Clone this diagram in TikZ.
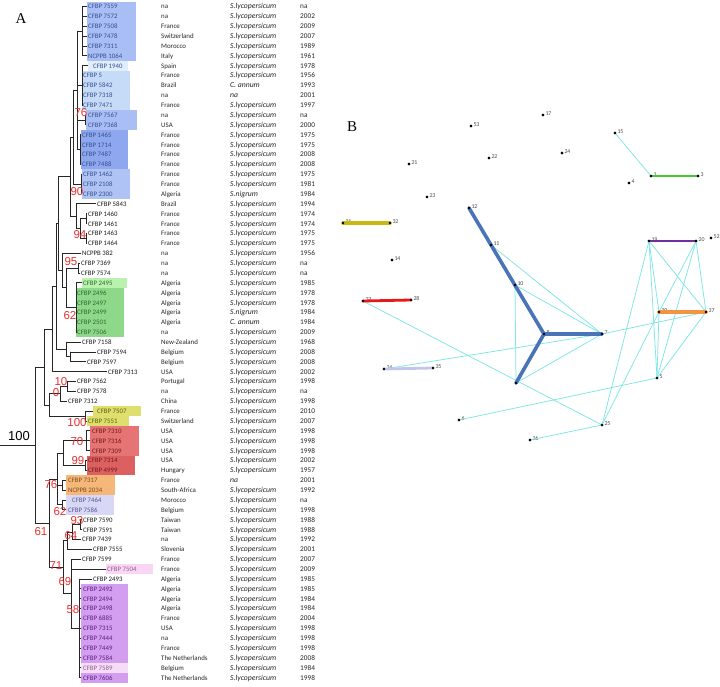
\documentclass[tikz,border=0pt]{standalone}
\usepackage{fontspec}
\setmainfont{Carlito}
\newfontfamily\serifA{Liberation Serif}
\newfontfamily\numf{Liberation Sans}
\definecolor{blueA}{HTML}{A9BEF4}
\definecolor{blueVL}{HTML}{E0EDFB}
\definecolor{blueL}{HTML}{C6DBF8}
\definecolor{blueD}{HTML}{8EA7EE}
\definecolor{blueM}{HTML}{AFC4F5}
\definecolor{greenL}{HTML}{B9F2AD}
\definecolor{greenM}{HTML}{8ED88A}
\definecolor{yel}{HTML}{DEDF6E}
\definecolor{redL}{HTML}{E77474}
\definecolor{redD}{HTML}{DC6060}
\definecolor{orgL}{HTML}{F6B87A}
\definecolor{lavL}{HTML}{D8D8F6}
\definecolor{pinkL}{HTML}{F8D6F4}
\definecolor{purL}{HTML}{D39DF0}
\definecolor{pinkV}{HTML}{F5DDF8}
\definecolor{tb}{HTML}{34508F}
\definecolor{tg}{HTML}{2E6A2E}
\definecolor{ty}{HTML}{5F5F0A}
\definecolor{tr}{HTML}{6E1A1A}
\definecolor{to}{HTML}{7A4A15}
\definecolor{tl}{HTML}{55558F}
\definecolor{tp}{HTML}{8F5A8F}
\definecolor{tu}{HTML}{5A2080}
\definecolor{k}{HTML}{1A1A1A}
\definecolor{bootred}{HTML}{E8312F}
\definecolor{cyanE}{HTML}{7EE6E6}
\definecolor{blueE}{HTML}{4A74B8}
\definecolor{yelE}{HTML}{C9B812}
\definecolor{grnE}{HTML}{44C833}
\definecolor{purE}{HTML}{7030A0}
\definecolor{redE}{HTML}{E81818}
\definecolor{orgE}{HTML}{F39440}
\definecolor{lavE}{HTML}{C4C4F0}
\begin{document}
\begin{tikzpicture}[x=1pt,y=-1pt,
  treeln/.style={line width=0.9pt, draw=black!85, line cap=rect},
  strain/.style={anchor=base west, inner sep=0, font=\fontsize{6.8}{7}\selectfont},
  info/.style={anchor=base west, inner sep=0, font=\fontsize{6.9}{7}\selectfont, text=black!85},
  yearst/.style={info, font=\fontsize{7.3}{7.5}\selectfont},
  spec/.style={info, font=\fontsize{7.7}{8}\selectfont\itshape},
  boot/.style={text=bootred, inner sep=0, font=\numf\fontsize{11.5}{11.5}\selectfont},
  panel/.style={inner sep=0, font=\serifA\fontsize{15}{15}\selectfont},
  dot/.style={circle, fill=black, inner sep=0, minimum size=2.6pt},
  lbl/.style={font=\fontsize{5.9}{6}\selectfont, text=black!70, inner sep=0.8pt, yshift=1.6pt},
  cyE/.style={draw=cyanE, line width=0.75pt},
  thick/.style={line width=3.2pt, line cap=round}
]
\useasboundingbox (0,0) rectangle (720,687);
\fill[white] (0,0) rectangle (720,687);

% ---------- highlight boxes ----------
\fill[blueA] (87,1.57) rectangle (136,60.78);
\fill[blueVL] (88,60.79) rectangle (128,70.65);
\fill[blueL] (82,70.66) rectangle (130,110.13);
\fill[blueA] (86,110.14) rectangle (137,129.87);
\fill[blueD] (81,129.88) rectangle (128,169.35);
\fill[blueM] (82,169.36) rectangle (130,198.96);
\fill[greenL] (82,277.93) rectangle (127,287.79);
\fill[greenM] (76,287.8) rectangle (124,337.14);
\fill[yel] (93,406.24) rectangle (141,416.1);
\fill[yel] (87,416.11) rectangle (129,425.97);
\fill[redL] (90,425.98) rectangle (139,455.58);
\fill[redD] (87,455.59) rectangle (135,475.32);
\fill[orgL] (66,475.33) rectangle (115,495.06);
\fill[lavL] (66,495.07) rectangle (114,514.8);
\fill[pinkL] (106,564.16) rectangle (153,574.02);
\fill[purL] (81,583.9) rectangle (128,662.85);
\fill[pinkV] (81,662.86) rectangle (128,672.72);
\fill[purL] (81,672.73) rectangle (128,682.59);

% ---------- tree ----------
\draw[treeln] (82,6.5)--(82,55.85);
\foreach \yy in {6.5,16.37,26.24,36.11,45.98,55.85} \draw[treeln] (82,\yy)--(87,\yy);
\draw[treeln] (82,65.72)--(82,105.2) (82,65.72)--(88,65.72);
\draw[treeln] (85,115.07)--(85,124.94) (85,115.07)--(86,115.07) (85,124.94)--(86,124.94);
\draw[treeln] (80,134.81)--(80,164.42);
\draw[treeln] (77,31.2)--(77,149.6) (77,31.2)--(82,31.2) (77,85.5)--(82,85.5) (77,120)--(85,120) (77,149.6)--(80,149.6);
\draw[treeln] (81,174.29)--(81,194.03);
\draw[treeln] (73,90.4)--(73,184.2) (73,90.4)--(77,90.4) (73,184.2)--(81,184.2);
\draw[treeln] (86,213.77)--(86,223.64) (86,213.77)--(87,213.77) (86,223.64)--(87,223.64);
\draw[treeln] (86,233.51)--(86,243.38) (86,233.51)--(87,233.51) (86,243.38)--(87,243.38);
\draw[treeln] (80,218.7)--(80,238.4) (80,218.7)--(86,218.7) (80,238.4)--(86,238.4);
\draw[treeln] (76,203.9)--(76,228.6) (76,203.9)--(96,203.9) (76,228.6)--(80,228.6);
\draw[treeln] (70,137.3)--(70,216.2) (70,137.3)--(73,137.3) (70,216.2)--(76,216.2);
\draw[treeln] (78,263.12)--(78,272.99) (78,263.12)--(80,263.12) (78,272.99)--(80,272.99);
\draw[treeln] (76,282.86)--(76,332.21) (76,282.86)--(82,282.86);
\draw[treeln] (66,268)--(66,307.5) (66,268)--(78,268) (66,307.5)--(76,307.5);
\draw[treeln] (62,253.25)--(62,287.8) (62,253.25)--(81,253.25) (62,287.8)--(66,287.8);
\draw[treeln] (58,176.8)--(58,270.5) (58,176.8)--(70,176.8) (58,270.5)--(62,270.5);
\draw[treeln] (70,351.95)--(70,361.82) (70,351.95)--(96,351.95) (70,361.82)--(86,361.82);
\draw[treeln] (66,342.08)--(66,356.9) (66,342.08)--(81,342.08) (66,356.9)--(70,356.9);
\draw[treeln] (56,223.7)--(56,349.5) (56,223.7)--(58,223.7) (56,349.5)--(66,349.5);
\draw[treeln] (52,286.6)--(52,371.69) (52,286.6)--(56,286.6) (52,371.69)--(107,371.69);
\draw[treeln] (67,381.56)--(67,391.43) (67,381.56)--(76,381.56) (67,391.43)--(76,391.43);
\draw[treeln] (60,386.5)--(60,401.3) (60,386.5)--(67,386.5) (60,401.3)--(67,401.3);
\draw[treeln] (85,411.17)--(85,421.04) (85,411.17)--(93,411.17) (85,421.04)--(87,421.04);
\draw[treeln] (49,393.9)--(49,416.1) (49,393.9)--(60,393.9) (49,416.1)--(85,416.1);
\draw[treeln] (44,329.1)--(44,405) (44,329.1)--(52,329.1) (44,405)--(49,405);
\draw[treeln] (86,430.91)--(86,450.65) (86,430.91)--(90,430.91) (86,440.78)--(90,440.78) (86,450.65)--(90,450.65);
\draw[treeln] (85,460.52)--(85,470.39) (85,460.52)--(87,460.52) (85,470.39)--(87,470.39);
\draw[treeln] (63,440.8)--(63,465.5) (63,440.8)--(86,440.8) (63,465.5)--(85,465.5);
\draw[treeln] (62,480.26)--(62,490.13) (62,480.26)--(66,480.26) (62,490.13)--(66,490.13);
\draw[treeln] (62,500)--(62,509.87) (62,500)--(66,500) (62,509.87)--(66,509.87);
\draw[treeln] (57,453.1)--(57,504.9) (57,453.1)--(63,453.1) (57,485.2)--(62,485.2) (57,504.9)--(62,504.9);
\draw[treeln] (80,519.74)--(80,529.61) (80,519.74)--(82,519.74) (80,529.61)--(82,529.61);
\draw[treeln] (72,524.7)--(72,539.48) (72,524.7)--(80,524.7) (72,539.48)--(81,539.48);
\draw[treeln] (67,532.1)--(67,549.35) (67,532.1)--(72,532.1) (67,549.35)--(92,549.35);
\draw[treeln] (79,578.96)--(79,677.66) (79,578.96)--(92,578.96);
\foreach \yy in {588.83,598.7,608.57,618.44,628.31,638.18,648.05,657.92,667.79,677.66} \draw[treeln] (79,\yy)--(81,\yy);
\draw[treeln] (71,559.22)--(71,628.3) (71,559.22)--(81,559.22) (71,569.09)--(106,569.09) (71,628.3)--(79,628.3);
\draw[treeln] (63,540.7)--(63,593.8) (63,540.7)--(67,540.7) (63,593.8)--(71,593.8);
\draw[treeln] (49,479)--(49,567.2) (49,479)--(57,479) (49,567.2)--(63,567.2);
\draw[treeln] (35,367)--(35,523.1) (35,367)--(44,367) (35,523.1)--(49,523.1) (0,445)--(35,445);

% ---------- bootstrap values ----------
\node[boot] (bs76a) at (81,113) {76};
\node[boot] (bs90) at (77,192) {90};
\node[boot] (bs94) at (80,235) {94};
\node[boot] (bs95) at (71,262) {95};
\node[boot] (bs62a) at (70,316) {62};
\node[boot] (bs10) at (61,382) {10};
\node[boot] (bs0) at (56,393) {0};
\node[boot] (bs100) at (77,423) {100};
\node[boot] (bs70) at (77,442) {70};
\node[boot] (bs99) at (78,461) {99};
\node[boot] (bs76b) at (51,485) {76};
\node[boot] (bs62b) at (60,512) {62};
\node[boot] (bs93) at (77,521) {93};
\node[boot] (bs64) at (71,536) {64};
\node[boot] (bs61) at (41,532) {61};
\node[boot] (bs71) at (56,566) {71};
\node[boot] (bs69) at (65,582) {69};
\node[boot] (bs58) at (73,610) {58};
\node[inner sep=0, font=\numf\fontsize{13}{13}\selectfont] (root100) at (19,436) {100};

% ---------- rows ----------
\foreach \i/\strn/\sx/\tcol/\co/\spc/\yr in {
1/CFBP 7559/88/tb/na/S.lycopersicum/na,
2/CFBP 7572/88/tb/na/S.lycopersicum/2002,
3/CFBP 7508/88/tb/France/S.lycopersicum/2009,
4/CFBP 7478/88/tb/Switzerland/S.lycopersicum/2007,
5/CFBP 7311/88/tb/Morocco/S.lycopersicum/1989,
6/NCPPB 1064/88/tb/Italy/S.lycopersicum/1961,
7/CFBP 1940/93/tb/Spain/S.lycopersicum/1978,
8/CFBP 5/83/tb/France/S.lycopersicum/1956,
9/CFBP 5842/83/tb/Brazil/C. annum/1993,
10/CFBP 7318/83/tb/na/na/2001,
11/CFBP 7471/83/tb/France/S.lycopersicum/1997,
12/CFBP 7567/88/tb/na/S.lycopersicum/na,
13/CFBP 7368/88/tb/USA/S.lycopersicum/2000,
14/CFBP 1465/82/tb/France/S.lycopersicum/1975,
15/CFBP 1714/82/tb/France/S.lycopersicum/1975,
16/CFBP 7487/82/tb/France/S.lycopersicum/2008,
17/CFBP 7488/82/tb/France/S.lycopersicum/2008,
18/CFBP 1462/83/tb/France/S.lycopersicum/1975,
19/CFBP 2108/83/tb/France/S.lycopersicum/1981,
20/CFBP 2300/83/tb/Algeria/S.nigrum/1984,
21/CFBP 5843/97/k/Brazil/S.lycopersicum/1994,
22/CFBP 1460/88/k/France/S.lycopersicum/1974,
23/CFBP 1461/88/k/France/S.lycopersicum/1974,
24/CFBP 1463/88/k/France/S.lycopersicum/1975,
25/CFBP 1464/88/k/France/S.lycopersicum/1975,
26/NCPPB 382/82/k/na/S.lycopersicum/1956,
27/CFBP 7369/81/k/na/S.lycopersicum/na,
28/CFBP 7574/81/k/na/S.lycopersicum/na,
29/CFBP 2495/83/tg/Algeria/S.lycopersicum/1985,
30/CFBP 2496/77/tg/Algeria/S.lycopersicum/1978,
31/CFBP 2497/77/tg/Algeria/S.lycopersicum/1978,
32/CFBP 2499/77/tg/Algeria/S.nigrum/1984,
33/CFBP 2501/77/tg/Algeria/C. annum/1984,
34/CFBP 7506/77/tg/na/S.lycopersicum/2009,
35/CFBP 7158/82/k/New-Zealand/S.lycopersicum/1968,
36/CFBP 7594/97/k/Belgium/S.lycopersicum/2008,
37/CFBP 7597/87/k/Belgium/S.lycopersicum/2008,
38/CFBP 7313/108/k/USA/S.lycopersicum/2002,
39/CFBP 7562/77/k/Portugal/S.lycopersicum/1998,
40/CFBP 7578/77/k/na/S.lycopersicum/na,
41/CFBP 7312/68/k/China/S.lycopersicum/1998,
42/CFBP 7507/97/ty/France/S.lycopersicum/2010,
43/CFBP 7551/88/ty/Switzerland/S.lycopersicum/2007,
44/CFBP 7310/92/tr/USA/S.lycopersicum/1998,
45/CFBP 7316/92/tr/USA/S.lycopersicum/1998,
46/CFBP 7309/92/tr/USA/S.lycopersicum/1998,
47/CFBP 7314/88/tr/USA/S.lycopersicum/2002,
48/CFBP 4999/88/tr/Hungary/S.lycopersicum/1957,
49/CFBP 7317/68/to/France/na/2001,
50/NCPPB 2034/68/to/South-Africa/S.lycopersicum/1992,
51/CFBP 7464/72/tl/Morocco/S.lycopersicum/na,
52/CFBP 7586/68/tl/Belgium/S.lycopersicum/1998,
53/CFBP 7590/83/k/Taiwan/S.lycopersicum/1988,
54/CFBP 7591/83/k/Taiwan/S.lycopersicum/1988,
55/CFBP 7439/82/k/na/S.lycopersicum/1992,
56/CFBP 7555/93/k/Slovenia/S.lycopersicum/2001,
57/CFBP 7599/82/k/France/S.lycopersicum/2007,
58/CFBP 7504/107/tp/France/S.lycopersicum/2009,
59/CFBP 2493/93/k/Algeria/S.lycopersicum/1985,
60/CFBP 2492/83/tu/Algeria/S.lycopersicum/1985,
61/CFBP 2494/83/tu/Algeria/S.lycopersicum/1984,
62/CFBP 2498/83/tu/Algeria/S.lycopersicum/1984,
63/CFBP 6885/83/tu/France/S.lycopersicum/2004,
64/CFBP 7315/83/tu/USA/S.lycopersicum/1998,
65/CFBP 7444/83/tu/na/S.lycopersicum/1998,
66/CFBP 7449/83/tu/France/S.lycopersicum/1998,
67/CFBP 7584/83/tu/The Netherlands/S.lycopersicum/2008,
68/CFBP 7589/83/tp/Belgium/S.lycopersicum/1984,
69/CFBP 7606/83/tu/The Netherlands/S.lycopersicum/1998}{
  \pgfmathsetmacro{\yy}{6.5+(\i-1)*9.87+2.4}
  \node[strain, text=\tcol] (s\i) at (\sx,\yy) {\strn};
  \node[info] (c\i) at (161,\yy) {\co};
  \node[spec] (p\i) at (230,\yy) {\spc};
  \node[yearst] (y\i) at (300,\yy) {\yr};
}

\node[panel] (labA) at (21,19) {A};
\node[panel] (labB) at (352,127) {B};

% ---------- panel B network ----------
\node[dot,label={[lbl]0:53}] (n53) at (471,126) {};
\node[dot,label={[lbl]0:17}] (n17) at (543,115) {};
\node[dot,label={[lbl]0:15}] (n15) at (615,133) {};
\node[dot,label={[lbl]0:22}] (n22) at (489,158) {};
\node[dot,label={[lbl]0:24}] (n24) at (562,153) {};
\node[dot,label={[lbl]0:21}] (n21) at (409,164) {};
\node[dot,label={[lbl]0:1}] (n1) at (651,176) {};
\node[dot,label={[lbl]0:3}] (n3) at (698,176) {};
\node[dot,label={[lbl]0:4}] (n4) at (629,183) {};
\node[dot,label={[lbl]0:23}] (n23) at (427,197) {};
\node[dot,label={[lbl]0:12}] (n12) at (469,208) {};
\node[dot,label={[lbl]0:31}] (n31) at (343,223) {};
\node[dot,label={[lbl]0:32}] (n32) at (390,223) {};
\node[dot,label={[lbl]0:11}] (n11) at (491,245) {};
\node[dot,label={[lbl]0:10}] (n10) at (515,285) {};
\node[dot,label={[lbl]0:19}] (n19) at (649,241) {};
\node[dot,label={[lbl]0:20}] (n20) at (696,241) {};
\node[dot,label={[lbl]0:52}] (n52) at (711,238) {};
\node[dot,label={[lbl]0:14}] (n14) at (392,260) {};
\node[dot,label={[lbl]0:27}] (n27) at (363,301) {};
\node[dot,label={[lbl]0:28}] (n28) at (411,300) {};
\node[dot,label={[lbl]0:30}] (n30) at (659,312) {};
\node[dot,label={[lbl]0:37}] (n37) at (706,312) {};
\node[dot,label={[lbl]0:8}] (nc) at (544,334) {};
\node[dot,label={[lbl]0:7}] (n7) at (602,334) {};
\node[dot,label={[lbl]0:34}] (n34) at (384,369) {};
\node[dot,label={[lbl]0:35}] (n35) at (433,368) {};
\node[dot,label={[lbl]0:5}] (n5) at (657,378) {};
\node[dot] (nb) at (516,383) {};
\node[dot,label={[lbl]0:6}] (n6) at (459,420) {};
\node[dot,label={[lbl]0:25}] (n25) at (602,425) {};
\node[dot,label={[lbl]0:26}] (n26) at (530,440) {};

\draw[cyE] (n15.center)--(n1.center);
\draw[cyE] (n11.center)--(n7.center);
\draw[cyE] (n10.center)--(n7.center);
\draw[cyE] (n10.center)--(nb.center);
\draw[cyE] (nb.center)--(n7.center);
\draw[cyE] (n7.center)--(n37.center);
\draw[cyE] (n34.center)--(n7.center);
\draw[cyE] (n27.center)--(n25.center);
\draw[cyE] (n6.center)--(n5.center);
\draw[cyE] (n26.center)--(n25.center);
\draw[cyE] (n19.center)--(n25.center);
\draw[cyE] (n19.center)--(n5.center);
\draw[cyE] (n19.center)--(n30.center);
\draw[cyE] (n19.center)--(n37.center);
\draw[cyE] (n20.center)--(n30.center);
\draw[cyE] (n20.center)--(n5.center);
\draw[cyE] (n20.center)--(n37.center);
\draw[cyE] (n30.center)--(n5.center);
\draw[cyE] (n37.center)--(n5.center);
\draw[cyE] (n25.center)--(n30.center);

\draw[thick, draw=blueE, line width=3.6pt] (n12.center)--(nc.center)--(n7.center);
\draw[thick, draw=blueE, line width=3.6pt] (nc.center)--(nb.center);
\draw[thick, draw=yelE] (n31.center)--(n32.center);
\draw[thick, draw=grnE, line width=2.8pt] (n1.center)--(n3.center);
\draw[thick, draw=purE, line width=2.8pt] (n19.center)--(n20.center);
\draw[thick, draw=redE, line width=2.8pt] (n27.center)--(n28.center);
\draw[thick, draw=orgE, line width=3.4pt] (n30.center)--(n37.center);
\draw[thick, draw=lavE, line width=2.8pt] (n34.center)--(n35.center);

\foreach \nn in {n53,n17,n15,n22,n24,n21,n1,n3,n4,n23,n12,n31,n32,n11,n10,n19,n20,n52,n14,n27,n28,n30,n37,nc,n7,n34,n35,n5,nb,n6,n25,n26}
  \fill[black] (\nn.center) circle (1.3pt);
\end{tikzpicture}
\end{document}
